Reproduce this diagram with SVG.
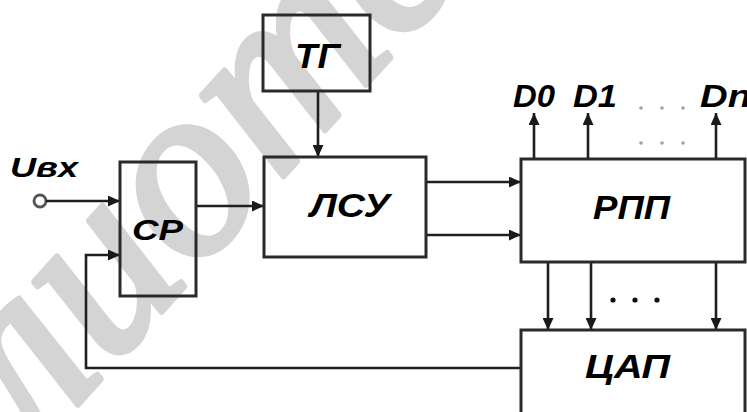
<svg xmlns="http://www.w3.org/2000/svg" width="747" height="412" viewBox="0 0 747 412">
<defs>
<marker id="ah" markerUnits="userSpaceOnUse" markerWidth="13" markerHeight="11" refX="12" refY="5.5" orient="auto">
<path d="M0,0 L12,5.5 L0,11 Z" fill="#1a1a1a"/>
</marker>
<style>
.box{fill:none;stroke:#2a2a2a;stroke-width:3}
.ln{fill:none;stroke:#1f1f1f;stroke-width:2.6}
.lbl{font-family:"Liberation Sans",Arial,sans-serif;font-weight:bold;font-style:italic;fill:#000}
.wm{font-family:"Liberation Serif","Times New Roman",serif;font-style:italic;fill:#d4d4d4;stroke:#d4d4d4;stroke-width:6;stroke-linejoin:round}
</style>
</defs>
<rect x="0" y="0" width="747" height="412" fill="#fff"/>
<g id="watermark">
<text class="wm" font-size="250" transform="translate(-225,741) rotate(-48)">Библиотека</text>
</g>
<g id="connectors">
<circle cx="40" cy="201" r="6" fill="#fff" stroke="#555" stroke-width="2.8"/>
<path class="ln" d="M46,201 H120" marker-end="url(#ah)"/>
<path class="ln" d="M521,368 H86 V255 H120" marker-end="url(#ah)"/>
<path class="ln" d="M196,206 H264" marker-end="url(#ah)"/>
<path class="ln" d="M318,91 V157" marker-end="url(#ah)"/>
<path class="ln" d="M426,182 H521" marker-end="url(#ah)"/>
<path class="ln" d="M426,235 H521" marker-end="url(#ah)"/>
<path class="ln" d="M534,159 V113" marker-end="url(#ah)"/>
<path class="ln" d="M588,159 V113" marker-end="url(#ah)"/>
<path class="ln" d="M716,159 V113" marker-end="url(#ah)"/>
<path class="ln" d="M548,262 V330" marker-end="url(#ah)"/>
<path class="ln" d="M591,262 V330" marker-end="url(#ah)"/>
<path class="ln" d="M716,262 V330" marker-end="url(#ah)"/>
<g fill="#a0a0a0">
<circle cx="641" cy="108" r="1.8"/><circle cx="662" cy="108" r="1.8"/><circle cx="683" cy="108" r="1.8"/>
<circle cx="641" cy="143" r="1.8"/><circle cx="662" cy="143" r="1.8"/><circle cx="683" cy="143" r="1.8"/>
</g>
<g fill="#111">
<circle cx="613" cy="300" r="2.6"/><circle cx="635" cy="300" r="2.6"/><circle cx="657" cy="300" r="2.6"/>
</g>
</g>
<g id="input-label">
<text class="lbl" x="10" y="177" font-size="28" textLength="68" lengthAdjust="spacingAndGlyphs">Uвх</text>
</g>
<g id="output-labels">
<text class="lbl" x="513" y="107" font-size="32" textLength="42" lengthAdjust="spacingAndGlyphs">D0</text>
<text class="lbl" x="573" y="107" font-size="32" textLength="44" lengthAdjust="spacingAndGlyphs">D1</text>
<text class="lbl" x="700" y="107" font-size="32" textLength="51" lengthAdjust="spacingAndGlyphs">Dn</text>
</g>
<g id="node-sr">
<rect class="box" x="120" y="162" width="76" height="134"/>
<text class="lbl" x="132" y="240" font-size="30" textLength="51" lengthAdjust="spacingAndGlyphs">СР</text>
</g>
<g id="node-tg">
<rect class="box" x="263" y="15" width="107" height="76"/>
<text class="lbl" x="295" y="68" font-size="35" textLength="45" lengthAdjust="spacingAndGlyphs">ТГ</text>
</g>
<g id="node-lsu">
<rect class="box" x="264" y="157" width="162" height="100"/>
<text class="lbl" x="310" y="217" font-size="34" textLength="80" lengthAdjust="spacingAndGlyphs">ЛСУ</text>
</g>
<g id="node-rpp">
<rect class="box" x="521" y="159" width="224" height="103"/>
<text class="lbl" x="593" y="219" font-size="33" textLength="77" lengthAdjust="spacingAndGlyphs">РПП</text>
</g>
<g id="node-tsap">
<rect class="box" x="521" y="330" width="224" height="100"/>
<text class="lbl" x="585" y="378" font-size="34" textLength="85" lengthAdjust="spacingAndGlyphs">ЦАП</text>
</g>
</svg>
